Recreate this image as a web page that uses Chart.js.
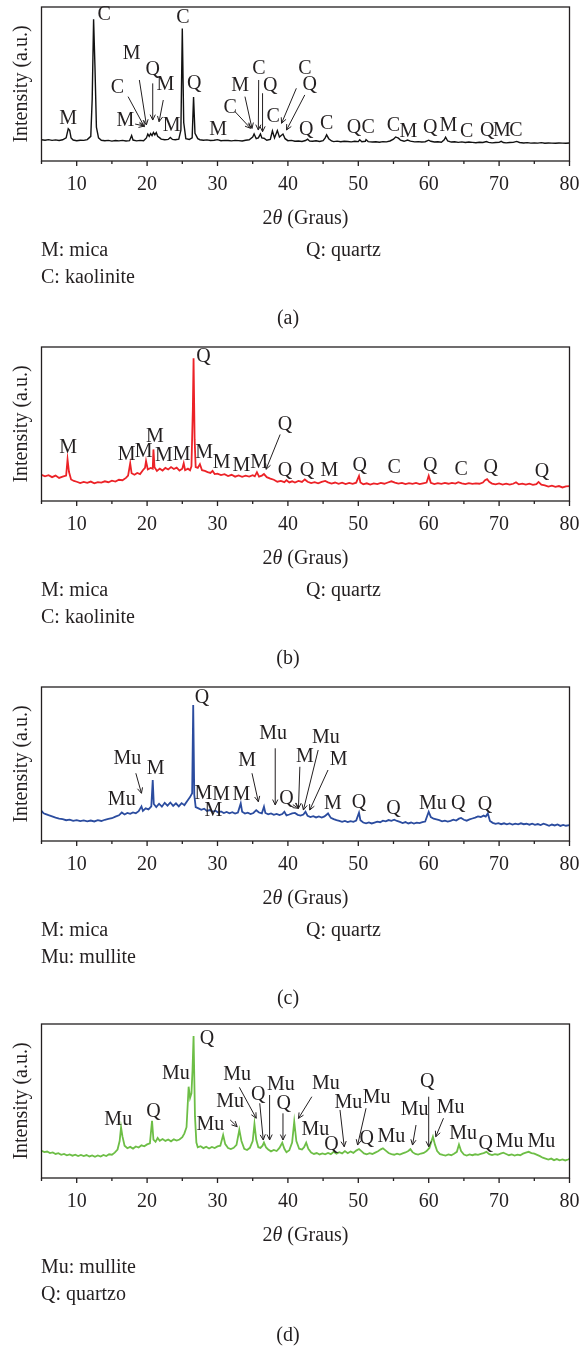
<!DOCTYPE html>
<html><head><meta charset="utf-8">
<script src="https://cdn.jsdelivr.net/npm/chart.js@4/dist/chart.umd.min.js"></script>
<style>
html,body{margin:0;padding:0;background:#fff;}
body{width:582px;height:1348px;position:relative;overflow:hidden;}
canvas{position:absolute;left:0;}
</style></head><body>
<canvas id="ca" width="582" height="340" style="top:0px"></canvas>
<canvas id="cb" width="582" height="340" style="top:340px"></canvas>
<canvas id="cc" width="582" height="340" style="top:680px"></canvas>
<canvas id="cd" width="582" height="331" style="top:1017px"></canvas>
<script>
// ---------- DATA ----------
const xTickLabels = [10, 20, 30, 40, 50, 60, 70, 80];
const xMinorTicks = [5, 15, 25, 35, 45, 55, 65, 75];

const patternA = [[5,13.8],[5.5,13.5],[6,13.9],[6.5,13.4],[7,13.7],[7.5,13.3],[8,13.8],[8.5,15],[8.8,21],[9.0,20],[9.2,15],[9.5,13.6],[10,13.2],[10.5,13.5],[11,13.4],[11.5,13.9],[12,16],[12.2,40],[12.4,92],[12.6,60],[12.8,22],[13.1,15],[13.5,13.5],[14,13.2],[14.5,13.4],[15,12.9],[15.5,13.3],[16,13.1],[16.5,13.4],[17,13.0],[17.5,13.2],[17.8,16.5],[18.0,13.6],[18.5,13.1],[19,13.4],[19.5,13.2],[19.9,15],[20.1,17.5],[20.3,16],[20.5,17.8],[20.7,16.5],[20.9,18.5],[21.1,17],[21.3,18.5],[21.5,16],[21.8,15],[22,14.2],[22.5,13.8],[23,14],[23.3,15.3],[23.6,14],[24,13.8],[24.5,14.2],[24.8,20],[25.0,86],[25.2,25],[25.5,14.5],[26,14],[26.4,15],[26.6,41.5],[26.8,18],[27.2,14.5],[27.5,13.8],[28,13.5],[28.5,13.7],[29,13.3],[29.5,13.5],[30,13.9],[30.5,13.2],[31,13.4],[31.5,13.3],[32,13.1],[32.5,13.4],[33,13.2],[33.5,13.0],[34,13.5],[34.5,13.8],[35,15.5],[35.2,17.5],[35.5,14.5],[35.8,15],[36.1,17.5],[36.3,15],[36.6,14.8],[37,13.5],[37.5,14],[37.8,19.5],[38.1,15],[38.5,19.8],[38.8,15.5],[39.3,17.5],[39.6,14.5],[40,13.2],[40.5,13.4],[41,12.8],[41.5,13],[42,12.7],[42.5,13.3],[42.8,14.2],[43.1,12.9],[43.5,12.8],[44,13.1],[44.5,12.7],[45,13.2],[45.3,15],[45.5,17],[45.8,14.5],[46.2,13],[46.5,12.6],[47,12.9],[47.5,12.5],[48,12.8],[48.5,12.7],[49,12.4],[49.5,12.8],[50,12.6],[50.2,13.8],[50.5,12.5],[51,12.8],[51.1,13.9],[51.4,12.6],[52,12.3],[52.5,12.5],[53,12.2],[53.5,12.6],[54,12.4],[54.5,13],[55,14.2],[55.3,15.6],[55.7,14.8],[56,13.5],[56.5,12.8],[57,13.6],[57.4,12.9],[58,12.4],[58.5,12.6],[59,12.3],[59.5,12.5],[60,13.5],[60.3,12.8],[60.8,12.3],[61.3,12.5],[61.8,12.2],[62.2,13.8],[62.4,15.5],[62.7,13],[63.2,12.3],[63.7,12.5],[64.2,12.1],[64.7,12.4],[65.2,12],[65.7,12.3],[66.2,12.1],[66.7,11.9],[67.2,12.2],[67.7,12],[68.2,12.6],[68.5,12.1],[69,11.8],[69.5,12],[70,12.1],[70.3,12.8],[70.6,12],[71,11.8],[71.5,12],[72,12.1],[72.5,12.7],[72.9,12],[73.5,11.7],[74,11.9],[74.5,11.6],[75,11.8],[75.5,11.6],[76,11.9],[76.5,11.5],[77,11.7],[77.5,11.6],[78,11.5],[78.5,11.7],[79,11.6],[79.5,11.5],[80,11.7]];

const patternB = [[5,17],[5.5,16],[6,16.8],[6.5,15.5],[7,16.5],[7.5,15],[8,15.8],[8.5,16.5],[8.7,27],[8.9,19],[9.2,14],[9.6,13],[10,12.5],[10.5,11.6],[11,12.4],[11.5,11.8],[12,12.6],[12.5,11.5],[13,12.3],[13.5,11.9],[14,12.8],[14.5,12.2],[15,13.2],[15.5,12.6],[16,13.8],[16.5,13.5],[17,15],[17.3,16.5],[17.6,24.5],[17.8,18],[18.2,17],[18.6,18.2],[19,17.5],[19.4,20],[19.7,21.5],[19.85,26],[20.1,20.5],[20.5,21.5],[20.8,21],[20.9,33.5],[21.05,22],[21.4,19.5],[21.8,21],[22.2,19.8],[22.6,21.5],[23,20.5],[23.4,22],[23.8,20.8],[24.2,21.7],[24.6,19.8],[25,21],[25.2,24.5],[25.4,20],[25.8,21],[26.1,20],[26.3,22.5],[26.5,60],[26.6,92.7],[26.75,40],[26.9,22],[27.2,21.5],[27.5,23.9],[27.8,20],[28.2,19.5],[28.6,18.8],[29,18.2],[29.3,19.5],[29.6,17.5],[30,17.8],[30.5,16.8],[31,17.4],[31.5,16.2],[32,17],[32.5,15.8],[33,16.6],[33.5,15.7],[34,16.4],[34.5,15.9],[35,16.8],[35.3,16],[35.6,18.7],[35.9,15.8],[36.3,16.5],[36.6,17.5],[37,15.5],[37.5,14.5],[38,13.8],[38.5,12.5],[39,13],[39.5,12.2],[39.8,13.5],[40.2,12.1],[40.6,12.8],[41,12],[41.5,13],[42,12.4],[42.4,14],[42.8,12.5],[43.3,11.6],[43.8,12.2],[44.3,11.5],[44.8,12.4],[45.3,13],[45.7,12.1],[46.2,11.3],[46.7,12],[47.2,11.2],[47.7,11.9],[48.2,11],[48.7,11.8],[49.2,11.1],[49.7,11.9],[50.1,16.3],[50.3,12],[50.7,10.8],[51.2,11.5],[51.7,10.7],[52.2,11.4],[52.7,11],[53.2,11.7],[53.7,11.2],[54.2,12],[54.7,12.8],[55.2,12],[55.7,11.3],[56.2,11.8],[56.7,11],[57.2,11.6],[57.7,11.1],[58.2,11.7],[58.7,11],[59.2,11.5],[59.7,12],[60,16.3],[60.3,11.8],[60.8,11],[61.3,11.6],[61.8,11.1],[62.3,11.7],[62.8,11.2],[63.3,11.8],[63.8,11.3],[64.2,12.2],[64.7,11.4],[65.2,11],[65.7,11.6],[66.2,11.1],[66.7,11.5],[67.2,11.2],[67.7,12],[68,13.5],[68.3,14.2],[68.6,12.5],[69,11.3],[69.5,10.8],[70,11.4],[70.5,10.7],[71,11.3],[71.5,10.6],[72,11.2],[72.4,12.2],[72.8,10.8],[73.3,11.3],[73.8,10.6],[74.3,11.2],[74.8,10.5],[75.3,11],[75.6,12.4],[76,10.6],[76.5,10.2],[77,9.4],[77.5,10],[78,9.2],[78.5,9.7],[79,8.8],[79.5,9.5],[80,9.6]];

const patternC = [[5,19.5],[5.3,18],[5.6,17.5],[6,16.8],[6.5,16],[7,15.2],[7.5,14.6],[8,14.2],[8.5,13.5],[9,13.9],[9.5,13.1],[10,13.6],[10.5,12.9],[11,13.4],[11.5,12.8],[12,13.3],[12.5,12.7],[13,13.5],[13.5,13],[14,13.8],[14.5,14.3],[15,14.8],[15.5,15.8],[16,16.7],[16.4,18.5],[16.8,17.2],[17.2,18.2],[17.6,17.6],[18,18.6],[18.4,18],[18.8,19.4],[19.2,22.5],[19.4,19.5],[19.8,21.2],[20.2,20.5],[20.6,22.5],[20.8,39.6],[20.95,24],[21.3,22],[21.7,24.2],[22.1,22.3],[22.5,24.8],[22.9,23],[23.3,25],[23.7,22.8],[24.1,24.5],[24.5,22.5],[24.9,24.6],[25.3,23.3],[25.7,26],[26.1,28.5],[26.4,31],[26.55,88.3],[26.7,30],[26.9,22],[27.3,21.2],[27.7,20.3],[28.1,21],[28.5,19.5],[28.9,20.1],[29.3,19],[29.7,19.7],[30.1,18.5],[30.5,19.2],[30.9,18.2],[31.3,18.9],[31.7,18],[32.1,18.7],[32.5,17.8],[32.9,18.5],[33.3,24.4],[33.5,19],[33.9,17.8],[34.3,18.4],[34.7,17.5],[35.1,18.2],[35.5,20],[35.9,18.5],[36.3,18],[36.6,22.3],[36.8,18.2],[37.2,17.3],[37.6,17.9],[38,17],[38.4,17.6],[38.8,16.8],[39.2,17.5],[39.5,19],[39.8,16.6],[40.2,17.2],[40.6,17.9],[41,18.2],[41.4,17],[41.8,16.5],[42.2,17.2],[42.5,19],[42.8,16.3],[43.2,15.5],[43.6,16.1],[44,15.3],[44.4,15.9],[44.8,15.2],[45.2,16],[45.7,17.9],[46.1,15],[46.5,14.2],[46.9,13.5],[47.3,13],[47.7,12.4],[48.1,13],[48.5,12.3],[48.9,12.9],[49.3,12.4],[49.7,13.2],[50.1,18.4],[50.3,13.5],[50.7,12],[51.1,11.5],[51.5,12.1],[51.9,11.4],[52.3,12],[52.7,12.6],[53.1,12.2],[53.5,13.2],[53.9,12.8],[54.3,13.6],[54.7,13.1],[55.1,13.8],[55.5,13],[55.9,12.4],[56.3,11.7],[56.7,12.3],[57.1,11.4],[57.5,12],[57.9,11.3],[58.3,11.9],[58.7,11.6],[59.1,12.2],[59.5,12.6],[60,19],[60.3,15.5],[60.7,14.5],[61.1,14],[61.5,13.5],[61.9,12.8],[62.3,13.2],[62.7,12.6],[63.1,13.1],[63.5,13.8],[63.9,13.3],[64.3,14.5],[64.6,15],[65,13.8],[65.4,13.2],[65.8,14],[66.2,14.6],[66.6,15.2],[67,16],[67.4,15.6],[67.8,16.5],[68.1,15.9],[68.4,17.9],[68.7,13],[69.1,11.8],[69.5,11.1],[69.9,11.6],[70.3,10.9],[70.7,11.5],[71.1,10.8],[71.5,11.4],[71.9,10.7],[72.3,11.3],[72.7,10.8],[73.1,11.5],[73.5,10.9],[73.9,11.2],[74.3,10.6],[74.7,11.3],[75.1,10.5],[75.5,11],[75.9,10.4],[76.3,11.2],[76.7,10.6],[77.1,9.9],[77.5,10.7],[77.9,10.1],[78.3,10.8],[78.7,9.8],[79.1,10.5],[79.5,9.9],[80,10.3]];

const patternD = [[5,17.7],[5.4,16.8],[5.8,17.2],[6.2,16.2],[6.6,16.6],[7,15.6],[7.4,16.1],[7.8,15.1],[8.2,15.6],[8.6,14.7],[9,15.3],[9.4,14.5],[9.8,15.1],[10.2,14.3],[10.6,15],[11,14.2],[11.4,14.9],[11.8,14],[12.2,14.7],[12.6,13.8],[13,14.6],[13.4,13.9],[13.8,15],[14.2,14.3],[14.6,15.4],[15,15.1],[15.4,16.5],[15.8,18.5],[16.1,24],[16.3,32.9],[16.5,27],[16.8,21],[17.2,19.3],[17.6,20.2],[18,19.1],[18.4,20.5],[18.8,19.8],[19.2,21.2],[19.6,20.6],[20,21.8],[20.4,22.5],[20.7,37.2],[20.9,25],[21.2,23.5],[21.5,26],[21.8,24.2],[22.2,25.3],[22.6,24.1],[23,25],[23.4,23.8],[23.8,25.1],[24.2,24.3],[24.6,25],[25,26.5],[25.3,29],[25.6,33],[25.9,59.3],[26.1,52],[26.3,55],[26.45,70],[26.6,92.2],[26.8,40],[27,23],[27.2,19.9],[27.6,20.6],[28,19.4],[28.4,20.3],[28.8,19.2],[29.2,20.2],[29.6,19.5],[30,20.5],[30.4,21],[30.8,27.9],[31.1,22],[31.5,19.5],[31.9,18.8],[32.3,19.6],[32.7,21.5],[33.1,31.2],[33.4,24],[33.8,19],[34.2,18.2],[34.6,19.6],[35,24],[35.25,35.1],[35.5,25],[35.8,20],[36.1,19.5],[36.4,21],[36.6,23],[36.9,19.8],[37.2,18.5],[37.6,17.3],[38,18.2],[38.4,17.5],[38.8,19.5],[39.2,22.9],[39.5,19],[39.8,16.8],[40.2,18],[40.6,23],[40.9,36.6],[41.2,24],[41.6,19],[42,18.5],[42.3,20],[42.6,22.9],[42.9,19],[43.3,16.5],[43.7,15.6],[44.1,16.2],[44.5,15.3],[44.9,16],[45.3,15.4],[45.7,16.3],[46.1,15.5],[46.5,17],[46.9,15.8],[47.3,16.8],[47.7,16],[48.1,17.5],[48.5,16.1],[48.9,17.2],[49.3,16.3],[49.7,17.8],[50.1,18.8],[50.4,17.6],[50.8,16],[51.2,15.4],[51.6,16.1],[52,15.6],[52.4,16.5],[52.8,17.4],[53.2,18.6],[53.5,19.3],[53.9,17.8],[54.3,16.2],[54.7,15.5],[55.1,15.1],[55.5,15.8],[55.9,15.2],[56.3,16],[56.7,16.6],[57.1,17.5],[57.4,18.7],[57.7,16.8],[58.1,15.6],[58.5,15.2],[58.9,15.9],[59.3,16.3],[59.7,17.5],[60.1,19.5],[60.4,24],[60.6,26.8],[60.9,21.5],[61.2,17.5],[61.6,15.5],[62,15],[62.4,14.6],[62.8,15.3],[63.2,14.8],[63.6,15.8],[64,17],[64.3,21.7],[64.6,17.5],[65,15.2],[65.4,14.6],[65.8,15.3],[66.2,14.8],[66.6,15.4],[67,15],[67.4,15.7],[67.8,16.2],[68.2,17],[68.6,15.5],[69,14.9],[69.4,15.5],[69.8,15.1],[70.2,15.8],[70.6,16.4],[71,15.6],[71.4,14.8],[71.8,15.3],[72.2,14.6],[72.6,15.2],[73,14.8],[73.4,15.8],[73.8,16.5],[74.2,17],[74.6,16.2],[75,15.8],[75.4,15],[75.8,14.2],[76.2,13.2],[76.6,12.6],[77,12],[77.4,12.6],[77.8,11.6],[78.2,12.3],[78.6,11.5],[79,12.1],[79.4,11.4],[79.8,12],[80,12.4]];

// peak labels: [text, 2theta, level]
const labelsA = [["M",8.8,27.7],["C",13.9,94.8],["C",25.1,93.3],["Q",26.7,50.4],["M",17.8,69.9],["C",15.8,47.8],["Q",20.8,59.1],["M",22.6,49.4],["M",16.9,26.2],["M",23.5,22.7],["M",30.1,20.6],["M",33.2,48.7],["C",31.8,34.9],["C",35.9,60.2],["Q",37.5,48.7],["C",37.9,28.8],["C",42.4,60.2],["Q",43.1,49.4],["Q",42.6,20.1],["C",45.5,24],["Q",49.4,21.9],["C",51.4,21.9],["C",55.0,22.7],["M",57.1,19],["Q",60.2,21.6],["M",62.8,22.7],["C",65.4,19],["Q",68.3,19.5],["M",70.4,19.5],["C",72.4,19.5]];
const arrowsA = [[17.3,41.8,19.6,22.3],[18.9,52.6,19.9,23.4],[20.8,50.4,20.8,26.6],[22.3,39.6,21.7,25.5],[18.3,24.0,19.6,22.7],[33.9,41.8,34.9,21.2],[32.5,32,34.7,21.2],[35.85,52.6,35.8,20.1],[36.4,44,36.4,19],[41.2,47.2,39.1,24.5],[42.4,42.9,39.8,20.1]];

const labelsB = [["M",8.8,34.6],["M",17.1,30.3],["M",19.5,31.8],["M",21.1,41.7],["M",22.4,29.7],["M",24.9,30.3],["M",28.1,31.4],["M",30.6,25],["M",33.4,23.2],["M",35.9,25],["Q",28.0,93.4],["Q",39.6,49.7],["Q",39.6,19.6],["Q",42.7,19.6],["M",45.9,19.6],["Q",50.2,22.8],["C",55.1,21.7],["Q",60.2,23.2],["C",64.6,20],["Q",68.8,21.7],["Q",76.1,18.9]];
const arrowsB = [[38.9,43.2,36.9,20.6]];

const labelsC = [["Mu",16.4,27.1],["Mu",17.2,53.7],["M",21.2,47.2],["Q",27.8,92.7],["M",28.0,31],["M",30.5,29.9],["M",29.4,19.7],["M",33.4,29.9],["M",34.2,52.1],["Mu",37.9,69.9],["Q",39.8,27.7],["M",42.4,54.4],["Mu",45.4,67.3],["M",47.2,52.6],["M",46.4,24],["Q",50.1,25.1],["Q",55.0,21.2],["Mu",60.6,24],["Q",64.2,24],["Q",68.0,23.4]];
const arrowsC = [[18.4,44,19.2,31],[34.9,44,35.8,25.5],[38.2,60.2,38.2,23.4],[41.7,48.2,41.5,21.2],[44.3,59.1,42.2,20.1],[45.7,46.1,43.1,20.1],[40.7,23.6,41.5,21.2]];

const labelsD = [["Mu",15.9,38.1],["Q",20.9,43.1],["Mu",24.1,67.5],["Q",28.5,90.7],["Mu",29.0,34.4],["Mu",31.8,49.5],["Mu",32.8,66.9],["Q",35.8,53.9],["Mu",39.0,60.4],["Q",39.4,48.5],["Mu",45.4,61.5],["Mu",43.9,31.6],["Q",46.2,21.4],["Mu",48.6,48.9],["Mu",52.6,51.8],["Q",51.2,25.8],["Mu",54.7,26.8],["Mu",58.0,44.2],["Q",59.8,62.5],["Mu",63.1,45.9],["Mu",64.9,29],["Q",68.1,22.5],["Mu",71.5,23.6],["Mu",76.0,23.6]];
const arrowsD = [[31.8,37.7,32.8,33.3],[33.1,58.9,35.5,38.8],[36.0,48.5,36.5,24.7],[37.4,53.9,37.4,24.7],[39.3,42,39.3,24.7],[43.4,52.8,41.5,38.7],[47.4,44.2,48.0,20.3],[51.1,45.3,49.9,21.4],[58.2,34.4,57.7,21.4],[60.0,52.8,60.0,20.3],[62.1,38.8,61.0,26.8]];

const legendA = [["M: mica","C: kaolinite"],["Q: quartz"]];
const legendB = [["M: mica","C: kaolinite"],["Q: quartz"]];
const legendC = [["M: mica","Mu: mullite"],["Q: quartz"]];
const legendD = [["Mu: mullite","Q: quartzo"],[]];

// ---------- RENDER ----------
const FONT = '"Liberation Serif", "Times New Roman", serif';
const INK = '#231f20';

function drawArrow(ctx, x1, y1, x2, y2) {
  ctx.beginPath();
  ctx.moveTo(x1, y1); ctx.lineTo(x2, y2);
  const ang = Math.atan2(y2 - y1, x2 - x1), h = 6, s = 0.45;
  ctx.moveTo(x2 - h * Math.cos(ang - s), y2 - h * Math.sin(ang - s));
  ctx.lineTo(x2, y2);
  ctx.lineTo(x2 - h * Math.cos(ang + s), y2 - h * Math.sin(ang + s));
  ctx.stroke();
}

const decor = {
  id: 'decor',
  afterDatasetsDraw(chart, args, o) {
    const { ctx, chartArea: a, scales: { x, y } } = chart;
    ctx.save();
    ctx.strokeStyle = INK; ctx.fillStyle = INK;
    // frame
    ctx.lineWidth = 1.3;
    ctx.strokeRect(a.left, a.top, a.right - a.left, a.bottom - a.top);
    // ticks
    ctx.beginPath();
    xTickLabels.forEach(v => { const p = x.getPixelForValue(v); ctx.moveTo(p, a.bottom); ctx.lineTo(p, a.bottom + 5); });
    xMinorTicks.forEach(v => { const p = x.getPixelForValue(v); ctx.moveTo(p, a.bottom); ctx.lineTo(p, a.bottom + 3); });
    ctx.stroke();
    ctx.font = '20px ' + FONT; ctx.textAlign = 'center'; ctx.textBaseline = 'middle';
    xTickLabels.forEach(v => ctx.fillText(String(v), x.getPixelForValue(v), a.bottom + 24));
    // x title: 2θ (Graus) with italic theta
    const fN = '20px ' + FONT, fI = 'italic 20px ' + FONT;
    ctx.textAlign = 'left';
    ctx.font = fN; const w1 = ctx.measureText('2').width, w3 = ctx.measureText(' (Graus)').width;
    ctx.font = fI; const w2 = ctx.measureText('θ').width;
    let tx = (a.left + a.right) / 2 - (w1 + w2 + w3) / 2; const ty = a.bottom + 58;
    ctx.font = fN; ctx.fillText('2', tx, ty); tx += w1;
    ctx.font = fI; ctx.fillText('θ', tx, ty); tx += w2;
    ctx.font = fN; ctx.fillText(' (Graus)', tx, ty);
    // y title
    ctx.save();
    ctx.translate(22, (a.top + a.bottom) / 2); ctx.rotate(-Math.PI / 2);
    ctx.textAlign = 'center'; ctx.fillText('Intensity (a.u.)', 0, 0);
    ctx.restore();
    // peak labels and arrows
    ctx.textAlign = 'center'; ctx.font = fN;
    o.labels.forEach(([t, vx, vy]) => ctx.fillText(t, x.getPixelForValue(vx), y.getPixelForValue(vy)));
    ctx.lineWidth = 1;
    o.arrows.forEach(([x1, y1, x2, y2]) => drawArrow(ctx, x.getPixelForValue(x1), y.getPixelForValue(y1), x.getPixelForValue(x2), y.getPixelForValue(y2)));
    // legend
    ctx.textAlign = 'left';
    o.legend[0].forEach((t, i) => ctx.fillText(t, 41, a.bottom + 90 + i * 26.5));
    o.legend[1].forEach((t, i) => ctx.fillText(t, 306, a.bottom + 90 + i * 26.5));
    // caption
    ctx.textAlign = 'center';
    ctx.fillText(o.caption, 288, a.bottom + 158);
    ctx.restore();
  }
};

function makeChart(id, data, color, labels, arrows, legend, caption, canvasH, lw) {
  new Chart(document.getElementById(id), {
    type: 'line',
    data: { datasets: [{ data: data.map(([x, y]) => ({ x, y })), borderColor: color, borderWidth: lw, pointRadius: 0, tension: 0, fill: false }] },
    options: {
      responsive: false, animation: false, devicePixelRatio: 1,
      layout: { padding: { left: 41.5, right: 12.5, top: 7, bottom: canvasH - 161 } },
      scales: {
        x: { type: 'linear', min: 5, max: 80, display: false },
        y: { type: 'linear', min: 0, max: 100, display: false }
      },
      plugins: { legend: { display: false }, tooltip: { enabled: false },
        decor: { labels, arrows, legend, caption } }
    },
    plugins: [decor]
  });
}

makeChart('ca', patternA, '#111111', labelsA, arrowsA, legendA, '(a)', 340, 1.4);
makeChart('cb', patternB, '#ec2227', labelsB, arrowsB, legendB, '(b)', 340, 1.8);
makeChart('cc', patternC, '#2b4c9f', labelsC, arrowsC, legendC, '(c)', 340, 1.8);
makeChart('cd', patternD, '#6dbe46', labelsD, arrowsD, legendD, '(d)', 331, 1.8);
</script>
</body></html>
